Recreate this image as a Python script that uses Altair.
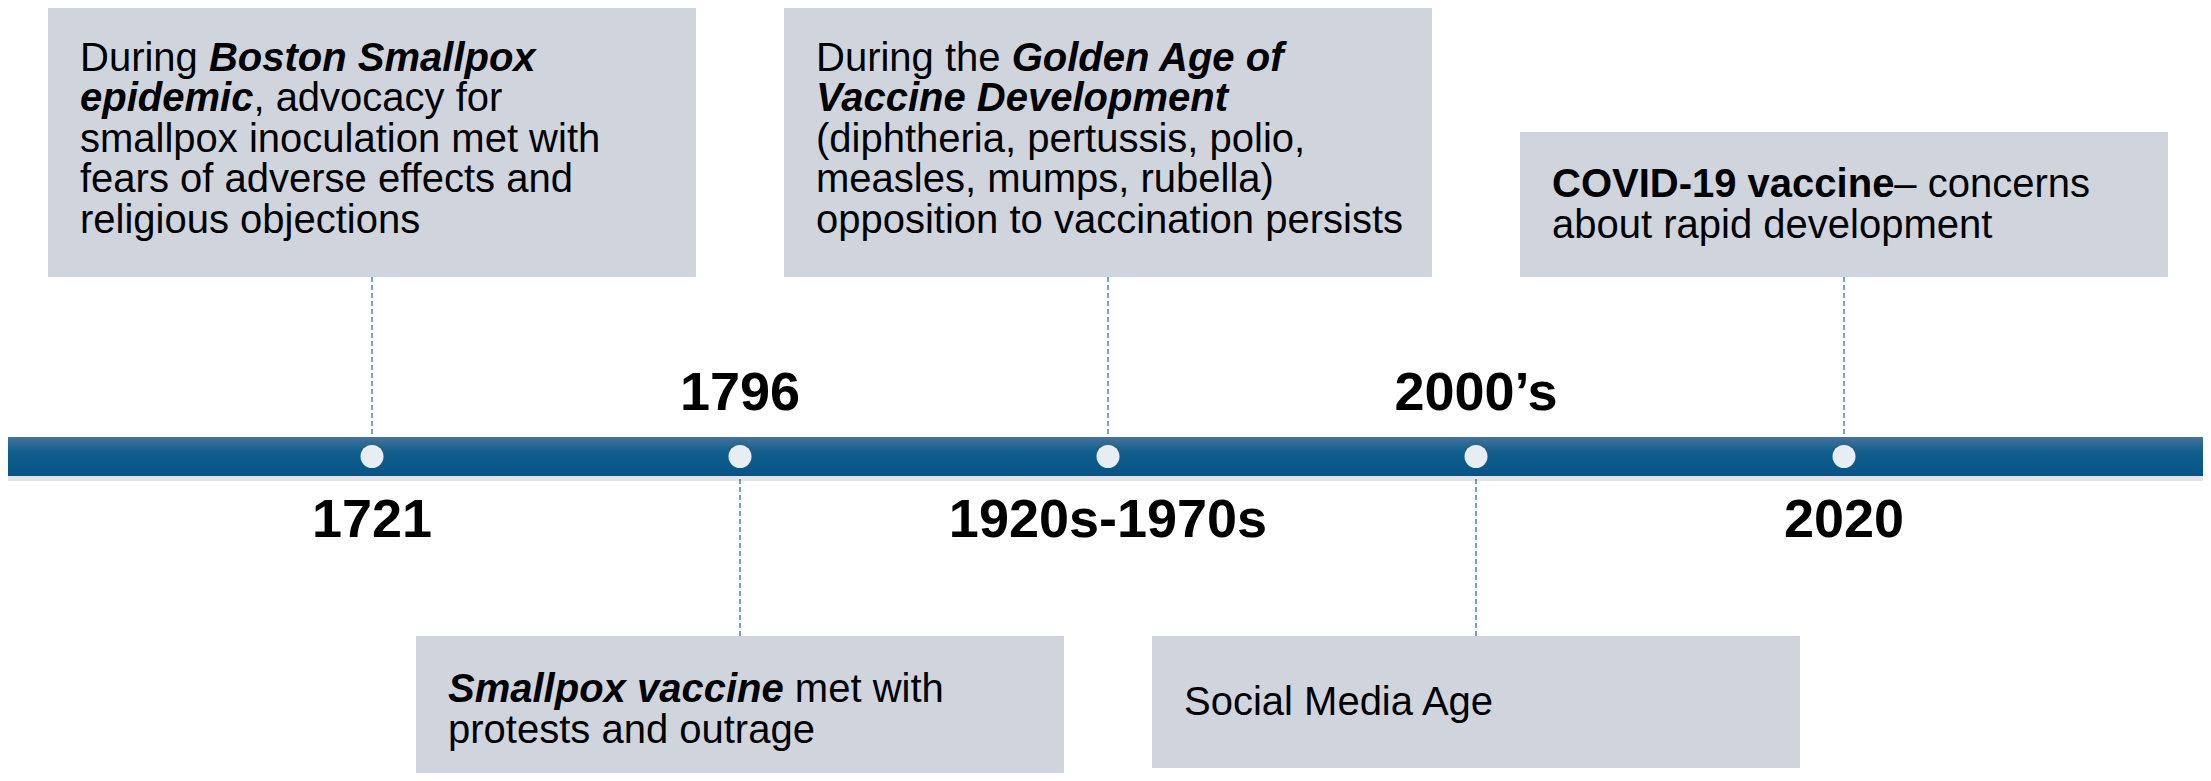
import altair as alt
import pandas as pd

# ---------------- data ----------------
EVENT_LABELS = ["1721", "1796", "1920s-1970s", "2000\u2019s", "2020"]
EVENT_POS = [0, 1, 2, 3, 4]
LABEL_SIDE = ["below", "above", "below", "above", "below"]

# box extents, in px measured from the timeline centre (positive = up)
BOX_NEAR = [179.5, -179.5, 179.5, -179.5, 179.5]
BOX_FAR = [453.5, -324.5, 453.5, -311.5, 324.5]
FIRST_BASELINE = [386.0, -245.5, 386.0, -258.5, 259.5]

BOX_LINES = [
    [[("During ", "r"), ("Boston Smallpox", "bi")],
     [("epidemic", "bi"), (", advocacy for", "r")],
     [("smallpox inoculation met with", "r")],
     [("fears of adverse effects and", "r")],
     [("religious objections", "r")]],
    [[("Smallpox vaccine", "bi"), (" met with", "r")],
     [("protests and outrage", "r")]],
    [[("During the ", "r"), ("Golden Age of", "bi")],
     [("Vaccine Development", "bi")],
     [("(diphtheria, pertussis, polio,", "r")],
     [("measles, mumps, rubella)", "r")],
     [("opposition to vaccination persists", "r")]],
    [[("Social Media Age", "r")]],
    [[("COVID-19 vaccine", "b"), ("\u2013 concerns", "r")],
     [("about rapid development", "r")]],
]

# ---------------- layout / style ----------------
W, H = 2195, 765
SPACING = 368.0          # px between events
FIRST_X = 364.0          # px from plot left to first event
TL_CENTER = 448.5        # px from plot top to timeline centre
XDOM = [-FIRST_X / SPACING, (W - FIRST_X) / SPACING]
YDOM = [TL_CENTER - H, TL_CENTER]
BOX_HALF = 324.0 / SPACING
TEXT_PAD = 32.0
LINE_H = 40.6
BODY_SIZE = 40
LABEL_SIZE = 54
BAR_HALF = 19.5
FONT = "Liberation Sans"

# Arial / Liberation Sans advance widths (1/1000 em)
REG_W = {" ": 278, ",": 278, "-": 333, "D": 722, "u": 556, "r": 333, "i": 222,
         "n": 556, "g": 556, "t": 278, "h": 556, "e": 556}
BOLD_W = {" ": 278, "-": 333, "1": 556, "9": 556, "C": 722, "O": 778, "V": 667,
          "I": 278, "D": 722, "S": 667, "m": 889, "a": 556, "l": 278, "p": 611,
          "o": 611, "x": 556, "v": 556, "c": 556, "i": 278, "n": 611, "e": 556,
          "d": 611}


def text_w(s, style):
    table = REG_W if style == "r" else BOLD_W
    return sum(table.get(ch, 556) for ch in s) * BODY_SIZE / 1000.0


rows = []
for pos, first, lines in zip(EVENT_POS, FIRST_BASELINE, BOX_LINES):
    for li, line in enumerate(lines):
        off = 0.0
        for seg, style in line:
            lead = len(seg) - len(seg.lstrip(" "))
            shown = seg.lstrip(" ")
            rows.append({
                "x": pos - BOX_HALF + (TEXT_PAD + off + text_w(" " * lead, style)) / SPACING,
                "y": first - li * LINE_H,
                "text": shown,
                "style": style,
            })
            off += text_w(seg, style)
segs = pd.DataFrame(rows)

events = pd.DataFrame({
    "pos": EVENT_POS,
    "label": EVENT_LABELS,
    "side": LABEL_SIDE,
    "x1": [p - BOX_HALF for p in EVENT_POS],
    "x2": [p + BOX_HALF for p in EVENT_POS],
    "near": BOX_NEAR,
    "far": BOX_FAR,
    "edge": [BAR_HALF if n > 0 else -BAR_HALF for n in BOX_NEAR],
    "ly": [46.5 if s == "above" else -80.5 for s in LABEL_SIDE],
    "zero": [0.0] * 5,
})

timeline = pd.DataFrame({"xs": [-1.2], "xe": [5.2], "yt": [BAR_HALF], "yb": [-BAR_HALF],
                         "st": [BAR_HALF - 2], "sb": [-BAR_HALF - 5]})

xs = alt.Scale(domain=XDOM, clamp=True, nice=False, zero=False)
ys = alt.Scale(domain=YDOM, clamp=True, nice=False, zero=False)

base = alt.Chart(events)

boxes = base.mark_rect(color="#d0d5dd").encode(
    x=alt.X("x1:Q", scale=xs, axis=None), x2="x2:Q",
    y=alt.Y("near:Q", scale=ys, axis=None), y2="far:Q")

connectors = base.mark_rule(color="#1f5f90", strokeWidth=1.2, strokeDash=[5, 3]).encode(
    x=alt.X("pos:Q", scale=xs, axis=None),
    y=alt.Y("near:Q", scale=ys, axis=None), y2="edge:Q")

tl = alt.Chart(timeline)
shadow1 = tl.mark_rect(color="#000000", opacity=0.10).encode(
    x=alt.X("xs:Q", scale=xs, axis=None), x2="xe:Q",
    y=alt.Y("st:Q", scale=ys, axis=None), y2="sb:Q")
shadow2 = tl.mark_rect(color="#000000", opacity=0.12).encode(
    x=alt.X("xs:Q", scale=xs, axis=None), x2="xe:Q",
    y=alt.Y("st:Q", scale=ys, axis=None), y2="yb:Q")

grad = alt.Gradient(
    gradient="linear",
    stops=[alt.GradientStop(color="#44739b", offset=0),
           alt.GradientStop(color="#155f8e", offset=0.35),
           alt.GradientStop(color="#0a5a8b", offset=0.7),
           alt.GradientStop(color="#085385", offset=1)],
    x1=0, x2=0, y1=0, y2=1)
bar = tl.mark_rect(color=grad).encode(
    x=alt.X("xs:Q", scale=xs, axis=None), x2="xe:Q",
    y=alt.Y("yt:Q", scale=ys, axis=None), y2="yb:Q")

dots = base.mark_point(filled=True, shape="circle", size=530, color="#e6edf3", opacity=1).encode(
    x=alt.X("pos:Q", scale=xs, axis=None),
    y=alt.Y("zero:Q", scale=ys, axis=None))

labels = base.mark_text(font=FONT, fontSize=LABEL_SIZE, fontWeight="bold", color="#000000",
                        align="center", baseline="alphabetic").encode(
    x=alt.X("pos:Q", scale=xs, axis=None),
    y=alt.Y("ly:Q", scale=ys, axis=None),
    text="label:N")


def seg_layer(style, weight, fstyle):
    return alt.Chart(segs).transform_filter(alt.datum.style == style).mark_text(
        font=FONT, fontSize=BODY_SIZE, fontWeight=weight, fontStyle=fstyle,
        color="#000000", align="left", baseline="alphabetic").encode(
        x=alt.X("x:Q", scale=xs, axis=None),
        y=alt.Y("y:Q", scale=ys, axis=None),
        text="text:N")


txt_r = seg_layer("r", "normal", "normal")
txt_b = seg_layer("b", "bold", "normal")
txt_bi = seg_layer("bi", "bold", "italic")

chart = alt.layer(
    boxes, connectors, shadow1, shadow2, bar, dots, labels, txt_r, txt_b, txt_bi
).properties(
    width=W, height=H,
    autosize=alt.AutoSizeParams(type="none"),
    padding=0,
    background="#ffffff",
).configure_view(stroke=None)

chart.save("out.html", embed_options={"renderer": "svg", "actions": False})
